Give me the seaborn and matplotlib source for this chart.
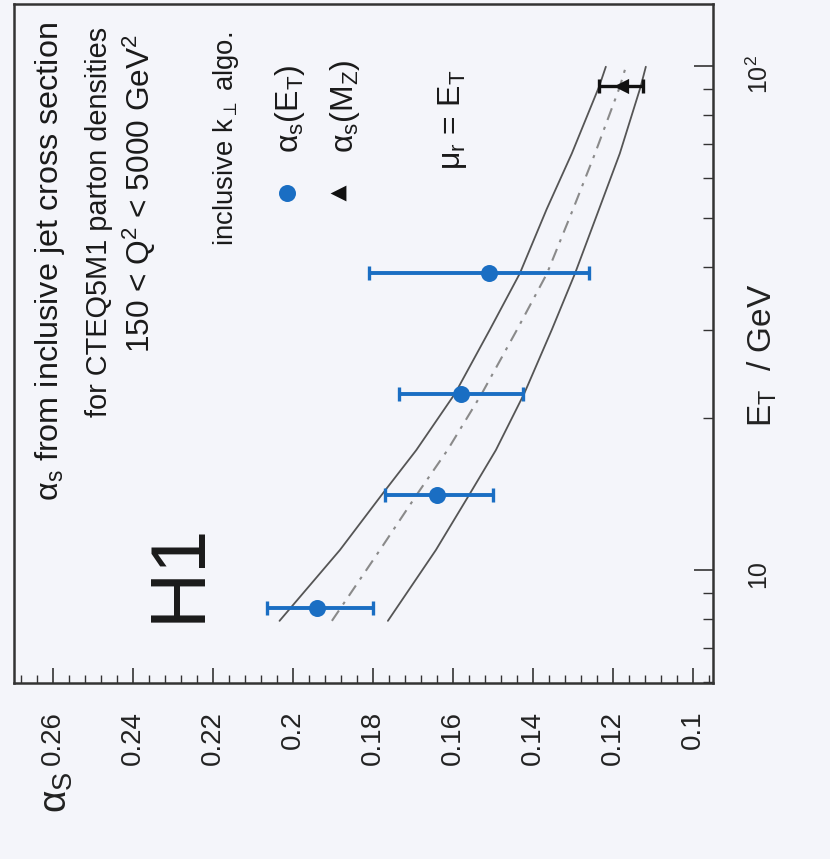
import matplotlib
matplotlib.use('Agg')
import matplotlib.pyplot as plt
import seaborn as sns
import pandas as pd
from matplotlib.ticker import FixedLocator, FixedFormatter, MultipleLocator, LogLocator, NullFormatter

sns.set_theme(style='white')
plt.rcParams['font.family'] = ['Liberation Sans', 'DejaVu Sans']
plt.rcParams['mathtext.fontset'] = 'custom'
plt.rcParams['mathtext.rm'] = 'Liberation Sans'
plt.rcParams['mathtext.it'] = 'Liberation Sans:italic'
plt.rcParams['mathtext.bf'] = 'Liberation Sans:bold'
plt.rcParams['mathtext.sf'] = 'Liberation Sans'

# ---------------- data ----------------
et_points = [8.4, 14.1, 22.4, 38.8]
alpha_points = [0.194, 0.164, 0.158, 0.151]
alpha_err_low = [0.014, 0.014, 0.0155, 0.025]
alpha_err_high = [0.0125, 0.013, 0.0155, 0.030]

mz_et = [91.2]
alpha_mz = [0.118]
alpha_mz_err = [0.0055]

curve_et = [7.93, 10.96, 14.22, 17.30, 22.41, 30.0, 38.79, 52.0, 67.1, 90.98, 99.7]
curve_upper = [0.2034, 0.1883, 0.1775, 0.1692, 0.1595, 0.1508, 0.1433, 0.1366, 0.1303, 0.1235, 0.1218]
curve_central = [0.1903, 0.1783, 0.1688, 0.1614, 0.1528, 0.1440, 0.1365, 0.1300, 0.1245, 0.1183, 0.1168]
curve_lower = [0.1763, 0.1643, 0.1557, 0.1493, 0.1422, 0.1353, 0.1295, 0.1235, 0.1183, 0.1131, 0.1118]

alpha_ticks = [0.10, 0.12, 0.14, 0.16, 0.18, 0.20, 0.22, 0.24, 0.26]
alpha_tick_labels = ['0.1', '0.12', '0.14', '0.16', '0.18', '0.2', '0.22', '0.24', '0.26']
et_ticks = [10, 100]
et_tick_labels = ['10', '10$^{2}$']

# ---------------- style ----------------
bg = '#f4f5fa'
blue = '#1a6ec3'
W, H = 830, 859
L, R, T, B = 14, 713, 4, 683

fig = plt.figure(figsize=(W / 100, H / 100), dpi=100, facecolor=bg)
ax = fig.add_axes([L / W, 1 - B / H, (R - L) / W, (B - T) / H])
ax.set_facecolor(bg)


def axc(px, py):
    return (px - L) / (R - L), (B - py) / (B - T)


ax.set_yscale('log')

curves = pd.DataFrame({'et': curve_et, 'upper': curve_upper,
                       'central': curve_central, 'lower': curve_lower})
sns.lineplot(data=curves, x='upper', y='et', sort=False, estimator=None,
             color='#555555', lw=1.3, ax=ax)
sns.lineplot(data=curves, x='lower', y='et', sort=False, estimator=None,
             color='#555555', lw=1.3, ax=ax)
sns.lineplot(data=curves, x='central', y='et', sort=False, estimator=None,
             color='#8a8a8a', lw=1.5, linestyle=(0, (6, 3.5, 1.5, 3.5)), ax=ax)

ax.errorbar(alpha_points, et_points, xerr=[alpha_err_low, alpha_err_high],
            fmt='none', ecolor=blue, elinewidth=2.8, capsize=4.8, capthick=2.4, zorder=4)
sns.scatterplot(x=alpha_points, y=et_points, s=150, color=blue, edgecolor=blue,
                linewidth=0, zorder=5, ax=ax)

ax.errorbar(alpha_mz, mz_et, xerr=alpha_mz_err, fmt='none', ecolor='#111111',
            elinewidth=2.4, capsize=4.8, capthick=2.4, zorder=4)
sns.scatterplot(x=alpha_mz, y=mz_et, marker='<', s=120, color='#111111',
                edgecolor='#111111', linewidth=0, zorder=5, ax=ax)

ax.set_xlim(0.2698, 0.0950)
ax.set_ylim(5.97, 132.8)

# ticks
ax.xaxis.set_major_locator(FixedLocator(alpha_ticks))
ax.xaxis.set_major_formatter(FixedFormatter(alpha_tick_labels))
ax.xaxis.set_minor_locator(MultipleLocator(0.004))
ax.tick_params(axis='x', which='both', direction='in', bottom=True, top=False,
               labelbottom=True, color='#333333')
ax.tick_params(axis='x', which='major', length=11, width=1.2, pad=20,
               labelsize=20, labelrotation=90, labelcolor='#222222')
ax.tick_params(axis='x', which='minor', length=5.5, width=1.0)

ax.yaxis.tick_right()
ax.yaxis.set_major_locator(FixedLocator(et_ticks))
ax.yaxis.set_major_formatter(FixedFormatter(et_tick_labels))
ax.yaxis.set_minor_locator(LogLocator(base=10, subs=(2, 3, 4, 5, 6, 7, 8, 9)))
ax.yaxis.set_minor_formatter(NullFormatter())
ax.tick_params(axis='y', which='both', direction='in', right=True, left=False,
               labelright=True, labelleft=False, color='#333333')
ax.tick_params(axis='y', which='major', length=14, width=1.2, pad=24,
               labelsize=18, labelrotation=90, labelcolor='#222222')
ax.tick_params(axis='y', which='minor', length=7, width=1.0)

for sp in ax.spines.values():
    sp.set_color('#333333')
    sp.set_linewidth(1.8)

# axis labels
ax.set_ylabel('E$_{\\rm T}$  / GeV', fontsize=24, rotation=90, color='#222222')
ax.yaxis.set_label_position('right')
ax.yaxis.set_label_coords(*axc(762, 355))
ax.yaxis.label.set_va('center')
ax.yaxis.label.set_ha('center')

ax.set_xlabel('α$_{\\rm S}$', fontsize=28, rotation=90, color='#222222')
ax.xaxis.set_label_coords(*axc(57, 792))
ax.xaxis.label.set_va('center')
ax.xaxis.label.set_ha('center')

# annotations (rotated like the rest of the figure)
txt = dict(transform=ax.transAxes, rotation=90, color='#1a1a1a')
ax.text(*axc(50, 22), 'α$_{\\rm s}$ from inclusive jet cross section', fontsize=23.3,
        ha='center', va='top', **txt)
ax.text(*axc(99, 27), 'for CTEQ5M1 parton densities', fontsize=20.8,
        ha='center', va='top', **txt)
ax.text(*axc(139, 34), '150 < Q$^{\\rm 2}$ < 5000 GeV$^{\\rm 2}$', fontsize=22.8,
        ha='center', va='top', **txt)
ax.text(*axc(226, 32), 'inclusive k$_{\\perp}$ algo.', fontsize=19.8,
        ha='center', va='top', **txt)
ax.text(*axc(290, 153), 'α$_{\\rm s}$(E$_{\\rm T}$)', fontsize=23,
        ha='center', va='bottom', **txt)
ax.text(*axc(345, 153), 'α$_{\\rm s}$(M$_{\\rm Z}$)', fontsize=23,
        ha='center', va='bottom', **txt)
ax.text(*axc(452, 120), 'μ$_{\\rm r}$ = E$_{\\rm T}$', fontsize=23,
        ha='center', va='center', **txt)
ax.text(*axc(179, 572), 'H1', fontsize=56, ha='center', va='center', **txt)

# legend keys
ax.scatter(*axc(287, 193), s=150, color=blue, transform=ax.transAxes, zorder=6,
           linewidths=0)
ax.scatter(*axc(338, 193), s=130, marker='<', color='#111111', transform=ax.transAxes,
           zorder=6, linewidths=0)

fig.savefig('out.png', dpi=100, facecolor=bg)
